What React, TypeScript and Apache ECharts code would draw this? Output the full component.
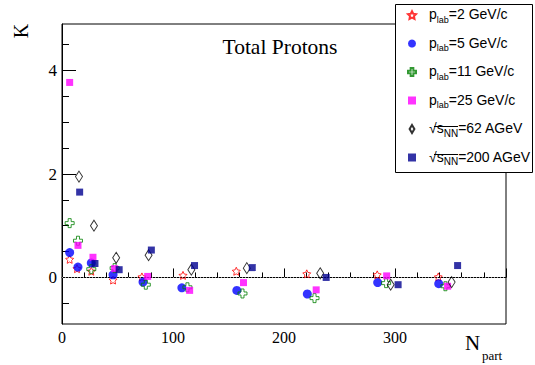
import React, { useEffect, useRef } from 'react';
import * as echarts from 'echarts';

// ---- data ----
const xLabelTicks = [0, 100, 200, 300];
const yLabelTicks = [0, 2, 4];
const yMinorTicks = [-0.5, 0.5, 1, 1.5, 2.5, 3, 3.5, 4.5];

const p2X = [6.9, 13.5, 26.4, 46, 72, 109, 157, 220.5, 284, 339];
const p2Y = [0.35, 0.17, 0.12, -0.05, 0.01, 0.04, 0.12, 0.07, 0.05, 0.01];

const p5X = [6.9, 14.4, 26.4, 46, 73, 108, 157.5, 221, 284.4, 339.4];
const p5Y = [0.48, 0.2, 0.28, 0.05, -0.09, -0.2, -0.25, -0.32, -0.1, -0.12];

const p11X = [6.9, 14.4, 26.4, 47.4, 75.5, 113, 162.6, 227.5, 292, 345.4];
const p11Y = [1.05, 0.71, 0.16, 0.18, -0.14, -0.19, -0.31, -0.4, -0.11, -0.17];

const p25X = [6.9, 14.4, 27.9, 47.4, 77.2, 115, 163.5, 229, 292.5, 347.4];
const p25Y = [3.77, 0.62, 0.39, 0.17, 0.02, -0.25, -0.1, -0.24, 0.03, -0.17];

const s62X = [15.3, 28.8, 48.8, 78, 116.5, 166.5, 232.6, 296.1, 351];
const s62Y = [1.95, 1.0, 0.38, 0.43, 0.15, 0.18, 0.08, -0.14, -0.09];

const s200X = [15.9, 29.7, 51.5, 80.5, 119.4, 171.4, 238, 302.8, 356.4];
const s200Y = [1.65, 0.27, 0.15, 0.53, 0.23, 0.19, 0.0, -0.14, 0.23];

const seriesNames = ['p2', 'p5', 'p11', 'p25', 's62', 's200'];
const legendValues = ['2 GeV/c', '5 GeV/c', '11 GeV/c', '25 GeV/c', '62 AGeV', '200 AGeV'];

const zip = (xs: number[], ys: number[]) => xs.map((x, i) => [x, ys[i]]);

const STAR =
  'path://M0,-10 L2.9,-4 L9.5,-3.1 L4.7,1.5 L5.9,8.1 L0,5 L-5.9,8.1 L-4.7,1.5 L-9.5,-3.1 L-2.9,-4 Z';
const CROSS =
  'path://M-1,-3 L1,-3 L1,-1 L3,-1 L3,1 L1,1 L1,3 L-1,3 L-1,1 L-3,1 L-3,-1 L-1,-1 Z';
const DIAMOND = 'path://M0,0 L3,5 L0,10 L-3,5 Z';

const SERIF = 'Liberation Serif';
const SANS = 'Liberation Sans';

export default function App() {
  const ref = useRef<HTMLDivElement>(null);

  useEffect(() => {
    if (!ref.current) return;
    const chart = echarts.init(ref.current, undefined, { renderer: 'svg' });

    const open = 'rgba(0,0,0,0)';
    const styles = [
      { symbol: STAR, size: 8, itemStyle: { color: open, borderColor: '#ff0000', borderWidth: 1 } },
      { symbol: 'circle', size: 9, itemStyle: { color: '#0000ff' } },
      { symbol: CROSS, size: 9, itemStyle: { color: open, borderColor: '#008000', borderWidth: 1 } },
      { symbol: 'rect', size: 7, itemStyle: { color: '#ff00ff' } },
      { symbol: DIAMOND, size: [7, 11], itemStyle: { color: open, borderColor: '#000', borderWidth: 1 } },
      { symbol: 'rect', size: 7, itemStyle: { color: '#000090' } },
    ];
    const datas = [
      zip(p2X, p2Y),
      zip(p5X, p5Y),
      zip(p11X, p11Y),
      zip(p25X, p25Y),
      zip(s62X, s62Y),
      zip(s200X, s200Y),
    ];

    const series: any[] = seriesNames.map((name, i) => ({
      type: 'scatter',
      name,
      data: datas[i],
      symbol: styles[i].symbol,
      symbolSize: styles[i].size,
      itemStyle: styles[i].itemStyle,
      z: 3 + i,
      ...(i === 0
        ? {
            markLine: {
              silent: true,
              symbol: 'none',
              label: { show: false },
              lineStyle: { type: [1, 2], color: '#999', width: 1 },
              data: [{ yAxis: 0 }],
              z: 1,
            },
          }
        : {}),
    }));

    const legendIcons = [STAR, 'circle', CROSS, 'rect', DIAMOND, 'rect'];

    const option: any = {
      animation: false,
      backgroundColor: '#fff',
      grid: {
        left: 62,
        right: 29,
        top: 24,
        bottom: 41,
        show: true,
        borderColor: '#000',
        borderWidth: 1,
        backgroundColor: 'transparent',
      },
      xAxis: {
        type: 'value',
        min: 0,
        max: 400,
        interval: 100,
        axisLine: { lineStyle: { color: '#000', width: 1 } },
        axisTick: { show: true, inside: true, length: 9, lineStyle: { color: '#000' } },
        minorTick: { show: true, splitNumber: 5, length: 5, lineStyle: { color: '#000' } },
        axisLabel: {
          customValues: xLabelTicks,
          fontFamily: SERIF,
          fontSize: 16,
          color: '#000',
          margin: 5,
        },
        splitLine: { show: false },
      },
      yAxis: [
        {
          type: 'value',
          min: -0.9,
          max: 4.9,
          axisLine: { show: true, lineStyle: { color: '#000', width: 1 } },
          axisTick: {
            show: true,
            inside: true,
            length: 14,
            customValues: yLabelTicks,
            lineStyle: { color: '#000' },
          },
          axisLabel: {
            customValues: yLabelTicks,
            fontFamily: SERIF,
            fontSize: 17,
            color: '#000',
            margin: 5,
          },
          splitLine: { show: false },
        },
        {
          type: 'value',
          min: -0.9,
          max: 4.9,
          position: 'left',
          offset: 0,
          axisLine: { show: false },
          axisTick: {
            show: true,
            inside: true,
            length: 7,
            customValues: yMinorTicks,
            lineStyle: { color: '#000' },
          },
          axisLabel: { show: false },
          splitLine: { show: false },
        },
      ],
      legend: {
        orient: 'vertical',
        left: 407,
        top: 7,
        z: 20,
        itemWidth: 8,
        itemHeight: 8,
        itemGap: 11.5,
        padding: 0,
        selectedMode: false,
        data: seriesNames.map((n, i) => ({ name: n, icon: legendIcons[i] })),
        formatter: (name: string) => {
          const i = seriesNames.indexOf(name);
          if (i < 4) return `{b|p}{sub|lab}{b|=${legendValues[i]}}`;
          return `{b|\u221A}{b|s}{sub2|NN}{b|=${legendValues[i]}}`;
        },
        textStyle: {
          color: '#000',
          fontFamily: SANS,
          fontSize: 14,
          padding: [0, 0, 0, 8],
          rich: {
            b: { fontFamily: SANS, fontSize: 14, lineHeight: 16, verticalAlign: 'top', color: '#000' },
            sub: {
              fontFamily: SANS,
              fontSize: 9,
              lineHeight: 10,
              padding: [8, 0, 0, 0],
              verticalAlign: 'top',
              color: '#000',
            },
            sub2: {
              fontFamily: SANS,
              fontSize: 10,
              lineHeight: 10,
              padding: [7, 0, 0, 0],
              verticalAlign: 'top',
              color: '#000',
            },
          },
        },
      },
      graphic: [
        {
          type: 'rect',
          z: 10,
          shape: { x: 395.5, y: 4.5, width: 137, height: 168 },
          style: { fill: '#fff', stroke: '#000', lineWidth: 1 },
        },
        {
          type: 'line',
          z: 30,
          shape: { x1: 434, y1: 126.5, x2: 458, y2: 126.5 },
          style: { stroke: '#000', lineWidth: 1 },
        },
        {
          type: 'line',
          z: 30,
          shape: { x1: 434, y1: 154.5, x2: 458, y2: 154.5 },
          style: { stroke: '#000', lineWidth: 1 },
        },
        {
          type: 'text',
          z: 30,
          x: 280,
          y: 47,
          style: {
            text: 'Total Protons',
            fontFamily: SERIF,
            fontSize: 21.5,
            fill: '#000',
            align: 'center',
            verticalAlign: 'middle',
          },
        },
        {
          type: 'text',
          z: 30,
          x: 21,
          y: 31,
          rotation: Math.PI / 2,
          style: {
            text: 'K',
            fontFamily: SERIF,
            fontSize: 20,
            fill: '#000',
            align: 'center',
            verticalAlign: 'middle',
          },
        },
        {
          type: 'text',
          z: 30,
          x: 465,
          y: 343,
          style: {
            text: 'N',
            fontFamily: SERIF,
            fontSize: 21,
            fill: '#000',
            align: 'left',
            verticalAlign: 'middle',
          },
        },
        {
          type: 'text',
          z: 30,
          x: 482,
          y: 355,
          style: {
            text: 'part',
            fontFamily: SERIF,
            fontSize: 13,
            fill: '#000',
            align: 'left',
            verticalAlign: 'middle',
          },
        },
      ],
      series,
    };

    chart.setOption(option);
    return () => chart.dispose();
  }, []);

  return <div ref={ref} style={{ width: 535, height: 365, position: 'absolute', left: 0, top: 0 }} />;
}
